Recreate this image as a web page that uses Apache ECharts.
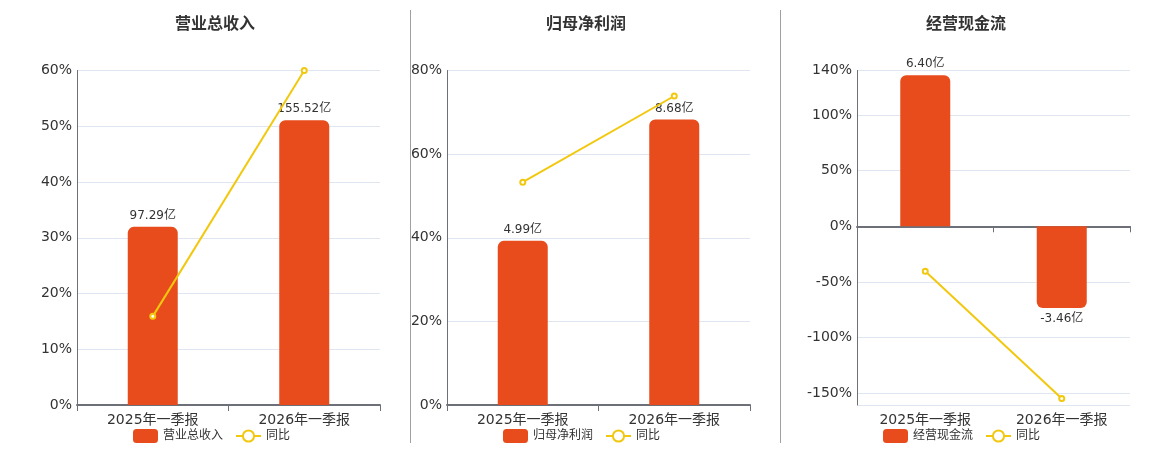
<!DOCTYPE html>
<html><head><meta charset="utf-8">
<script src="https://cdn.jsdelivr.net/npm/echarts@6/dist/echarts.min.js"></script>
<style>html,body{margin:0;padding:0;background:#fff}#c{width:1160px;height:450px}</style>
</head><body><div id="c"></div>
<script>
const categories = ['2025年一季报', '2026年一季报'];
const revenue = [97.29, 155.52];
const revenueYoY = [15.9, 60.0];
const profit = [4.99, 8.68];
const profitYoY = [53.3, 73.9];
const cash = [6.40, -3.46];
const cashYoY = [-40.5, -154.7];
const titles = ['营业总收入', '归母净利润', '经营现金流'];

const FONT = 'DejaVu Sans, "Noto Sans CJK SC", sans-serif';
const BAR = '#E84C1C';
const LINE = '#F2C80F';
const TXT = '#333';

const chart = echarts.init(document.getElementById('c'));

function barData(arr) {
  return arr.map(v => ({
    value: v,
    itemStyle: { borderRadius: v >= 0 ? [6, 6, 0, 0] : [0, 0, 6, 6] },
    label: { position: v >= 0 ? 'top' : 'bottom' }
  }));
}

const grids = [
  { left: 77, width: 303, top: 70.5, bottom: 45 },
  { left: 447, width: 303, top: 70.5, bottom: 45 },
  { left: 857, width: 273, top: 70.5, bottom: 45 }
];

const xBase = {
  type: 'category', data: categories,
  axisLine: { lineStyle: { color: '#6E7079', width: 2 } },
  axisTick: { show: true, length: 6, lineStyle: { color: '#6E7079', width: 1 } },
  axisLabel: { color: TXT, fontSize: 14, fontFamily: FONT }
};

const yPct = (gi, min, max, interval, extra) => Object.assign({
  type: 'value', gridIndex: gi, min: min, max: max,
  axisLine: { show: true, lineStyle: { color: '#6E7079' } },
  axisTick: { show: false },
  splitLine: { lineStyle: { color: '#E0E6F1' } },
  axisLabel: { formatter: '{value}%', color: TXT, fontSize: 14, fontFamily: FONT, margin: 5 }
}, interval ? { interval: interval } : {}, extra || {});

const yHidden = (gi, min, max) => ({
  type: 'value', gridIndex: gi, min: min, max: max, show: false,
  splitLine: { show: false }
});

const barLabel = {
  show: true, color: TXT, fontSize: 12, fontFamily: FONT,
  formatter: p => Number(p.value).toFixed(2) + '亿'
};

function barSeries(name, xi, yi, data) {
  return {
    name: name, type: 'bar', xAxisIndex: xi, yAxisIndex: yi, barWidth: 50,
    itemStyle: { color: BAR }, label: barLabel, data: barData(data), z: 2
  };
}
function lineSeries(xi, yi, data) {
  return {
    name: '同比', type: 'line', xAxisIndex: xi, yAxisIndex: yi,
    symbol: 'emptyCircle', symbolSize: 5,
    lineStyle: { color: LINE, width: 2 },
    itemStyle: { color: LINE, borderWidth: 1.5 },
    data: data, z: 3
  };
}

const titleCenters = [210, 581, 961];
const legendLefts = [128, 498, 878];

const option = {
  animation: false,
  textStyle: { fontFamily: FONT },
  title: titles.map((t, i) => ({
    text: t, left: titleCenters[i], top: 12, textAlign: 'center',
    textStyle: { fontSize: 16, fontWeight: 'bold', color: TXT, fontFamily: FONT }
  })),
  legend: titles.map((t, i) => ({
    data: [t, '同比'], left: legendLefts[i], top: 424,
    itemWidth: 25, itemHeight: 14, itemGap: 12,
    textStyle: { color: TXT, fontSize: 12, fontFamily: FONT }
  })),
  grid: grids,
  xAxis: [
    Object.assign({ gridIndex: 0 }, xBase),
    Object.assign({ gridIndex: 1 }, xBase),
    Object.assign({ gridIndex: 2 }, xBase, { axisLabel: { show: false } }),
    Object.assign({ gridIndex: 2 }, xBase, {
      position: 'bottom', axisLine: { show: false, onZero: false }, axisTick: { show: false }
    })
  ],
  yAxis: [
    yPct(0, 0, 60, 10),
    yHidden(0, 0, 182.7),
    yPct(1, 0, 80, 20),
    yHidden(1, 0, 10.17),
    yPct(2, -160.6, 140, null, { axisLabel: { formatter: '{value}%', color: TXT, fontSize: 14, fontFamily: FONT, margin: 5, showMinLabel: false } }),
    yHidden(2, -7.57, 6.60)
  ],
  series: [
    barSeries(titles[0], 0, 1, revenue),
    lineSeries(0, 0, revenueYoY),
    barSeries(titles[1], 1, 3, profit),
    lineSeries(1, 2, profitYoY),
    barSeries(titles[2], 2, 5, cash),
    lineSeries(2, 4, cashYoY)
  ],
  graphic: [
    { type: 'line', shape: { x1: 410.5, y1: 10, x2: 410.5, y2: 443 }, style: { stroke: '#A0A0A0', lineWidth: 1 } },
    { type: 'line', shape: { x1: 780.5, y1: 10, x2: 780.5, y2: 443 }, style: { stroke: '#A0A0A0', lineWidth: 1 } }
  ]
};
chart.setOption(option);
</script></body></html>
